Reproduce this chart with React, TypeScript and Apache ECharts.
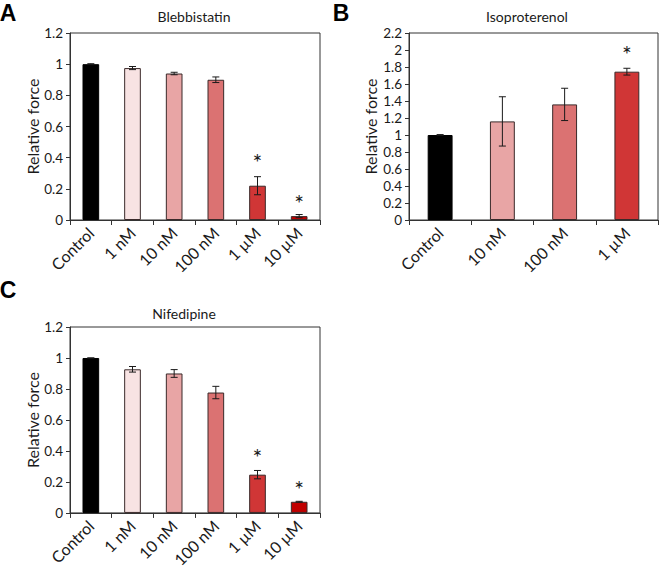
import React, { useEffect, useRef } from "react";
import * as echarts from "echarts";

const catsA = ["Control", "1 nM", "10 nM", "100 nM", "1 µM", "10 µM"];
const valsA = [1.0, 0.975, 0.94, 0.9, 0.22, 0.025];
const errA = [0.003, 0.01, 0.008, 0.018, 0.058, 0.01];
const starsA = [null, null, null, null, 0.4, 0.135];

const catsB = ["Control", "10 nM", "100 nM", "1 µM"];
const valsB = [1.0, 1.16, 1.36, 1.745];
const errB = [0.005, 0.29, 0.19, 0.04];
const starsB = [null, null, null, 2.0];

const catsC = ["Control", "1 nM", "10 nM", "100 nM", "1 µM", "10 µM"];
const valsC = [1.0, 0.927, 0.9, 0.777, 0.247, 0.072];
const errC = [0, 0.018, 0.025, 0.04, 0.027, 0.003];
const starsC = [null, null, null, null, 0.39, 0.18];

const colorsA = ["#000000", "#F8E3E3", "#E8A5A5", "#DB7272", "#D03636", "#C00000"];
const colorsB = ["#000000", "#E8A5A5", "#DB7272", "#D03636"];
const colorsC = ["#000000", "#F8E3E3", "#E8A5A5", "#DB7272", "#D03636", "#C00000"];

const FONT = "Lato, 'Open Sans', sans-serif";
const AX = "#333333";
const TXT = "#1a1a1a";

function panel(gi: number, cats: string[], vals: number[], errs: number[], stars: (number | null)[], colors: string[], max: number, nameGap: number) {
  const xAxis = {
    gridIndex: gi,
    type: "category",
    data: cats,
    boundaryGap: true,
    axisLine: { show: true, lineStyle: { color: AX, width: 1 } },
    axisTick: { show: true, alignWithLabel: false, length: 5, lineStyle: { color: AX } },
    axisLabel: { interval: 0, rotate: 45, margin: 10, fontSize: 16, fontFamily: FONT, color: TXT },
    splitLine: { show: false },
  };
  const yAxis = {
    gridIndex: gi,
    type: "value",
    min: 0,
    max,
    interval: 0.2,
    name: "Relative force",
    nameLocation: "middle",
    nameGap,
    nameTextStyle: { fontSize: 16, fontFamily: FONT, color: TXT },
    axisLine: { show: true, lineStyle: { color: AX, width: 1 } },
    axisTick: { show: true, length: 4, lineStyle: { color: AX } },
    axisLabel: { fontSize: 13.5, fontFamily: FONT, color: TXT, margin: 7 },
    splitLine: { show: false },
  };
  const series: any[] = [
    {
      type: "bar",
      xAxisIndex: gi,
      yAxisIndex: gi,
      barWidth: "40%",
      data: vals.map((v, i) => ({
        value: v,
        itemStyle: { color: colors[i], borderColor: i === 0 ? "#000" : "#3a2a2a", borderWidth: 1 },
      })),
    },
    {
      type: "custom",
      xAxisIndex: gi,
      yAxisIndex: gi,
      z: 10,
      encode: { x: 0, y: [1, 2] },
      data: vals.map((v, i) => [i, v - errs[i], v + errs[i]]),
      renderItem: (params: any, api: any) => {
        const lo = api.coord([api.value(0), api.value(1)]);
        const hi = api.coord([api.value(0), api.value(2)]);
        const x = lo[0];
        const w = 3.5;
        const st = { stroke: "#1a1a1a", lineWidth: 1 };
        return {
          type: "group",
          children: [
            { type: "line", shape: { x1: x, y1: lo[1], x2: x, y2: hi[1] }, style: st },
            { type: "line", shape: { x1: x - w, y1: lo[1], x2: x + w, y2: lo[1] }, style: st },
            { type: "line", shape: { x1: x - w, y1: hi[1], x2: x + w, y2: hi[1] }, style: st },
          ],
        };
      },
    },
    {
      type: "custom",
      xAxisIndex: gi,
      yAxisIndex: gi,
      z: 11,
      encode: { x: 0, y: 1 },
      data: stars.map((s, i) => (s == null ? null : [i, s])).filter((d) => d !== null),
      renderItem: (params: any, api: any) => {
        const p = api.coord([api.value(0), api.value(1)]);
        return {
          type: "text",
          x: p[0],
          y: p[1] + 4,
          style: { text: "*", align: "center", verticalAlign: "middle", fontSize: 23, fontFamily: FONT, fill: TXT },
        };
      },
    },
  ];
  return { xAxis, yAxis, series };
}

export default function App() {
  const ref = useRef<HTMLDivElement>(null);
  useEffect(() => {
    if (!ref.current) return;
    const chart = echarts.init(ref.current, undefined, { renderer: "svg" });
    const pA = panel(0, catsA, valsA, errA, starsA, colorsA, 1.2, 30);
    const pB = panel(1, catsB, valsB, errB, starsB, colorsB, 2.2, 31);
    const pC = panel(2, catsC, valsC, errC, starsC, colorsC, 1.2, 30);
    const gridStyle = { show: true, borderColor: AX, borderWidth: 1, backgroundColor: "transparent", containLabel: false };
    const t = (text: string, x: number, y: number, size: number, bold = false, family = FONT) => ({
      type: "text",
      x,
      y,
      style: { text, align: "center", verticalAlign: "middle", fontSize: size, fontWeight: bold ? "bold" : "normal", fontFamily: family, fill: bold ? "#000" : TXT },
    });
    chart.setOption({
      animation: false,
      backgroundColor: "#ffffff",
      grid: [
        { ...gridStyle, left: 70, top: 33, width: 250, height: 187 },
        { ...gridStyle, left: 409, top: 33, width: 249, height: 187 },
        { ...gridStyle, left: 70, top: 327, width: 250, height: 190 },
      ],
      xAxis: [pA.xAxis, pB.xAxis, pC.xAxis],
      yAxis: [pA.yAxis, pB.yAxis, pC.yAxis],
      series: [...pA.series, ...pB.series, ...pC.series],
      graphic: [
        t("A", 8, 13, 23, true, "'Liberation Sans', Arial, sans-serif"),
        t("B", 341, 13, 23, true, "'Liberation Sans', Arial, sans-serif"),
        t("C", 8, 290, 23, true, "'Liberation Sans', Arial, sans-serif"),
        t("Blebbistatin", 194, 16, 14),
        t("Isoproterenol", 527, 16, 14),
        t("Nifedipine", 184, 313, 14),
      ],
    });
    return () => chart.dispose();
  }, []);
  return <div ref={ref} style={{ position: "absolute", left: 0, top: 0, width: 660, height: 570 }} />;
}
